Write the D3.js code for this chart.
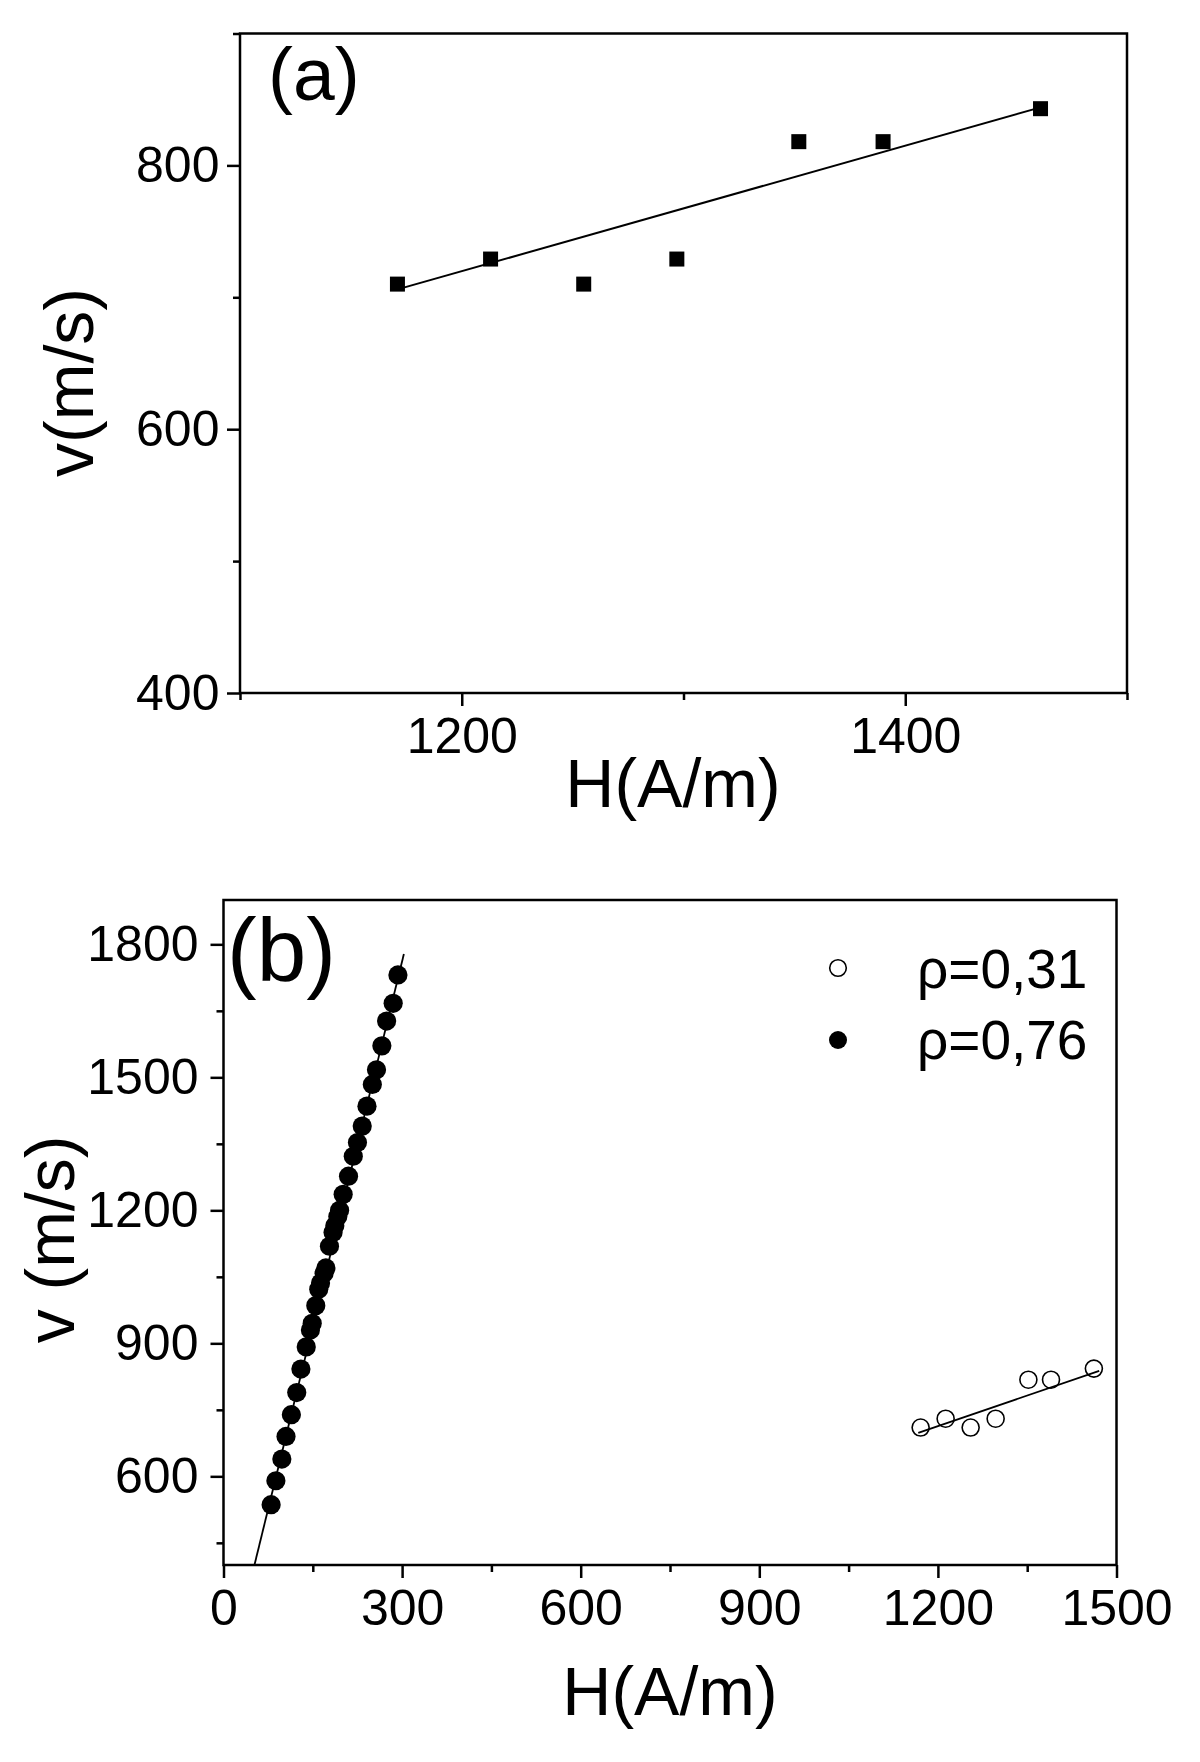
<!DOCTYPE html>
<html><head><meta charset="utf-8">
<script src="https://cdn.jsdelivr.net/npm/d3@7"></script>
<style>
body{margin:0;background:#fff}
svg{display:block}
text{font-family:"Liberation Sans",Arial,Helvetica,sans-serif;fill:#000}
</style>
</head><body><script>
// ---------- data ----------
// Panel (a)
const aH = [1171, 1213, 1255, 1297, 1352, 1390, 1461];
const aV = [710, 729, 710, 729, 818, 818, 843];
const aFitH = [1171, 1461];
const aFitV = [706, 844];
const aXMajor = [1200, 1400];
const aXMinor = [1100, 1300, 1500];
const aYMajor = [400, 600, 800];
const aYMinor = [500, 700, 900];

// Panel (b) – rho = 0.31 (open circles)
const bOpenH = [1171, 1213, 1255, 1297, 1352, 1390, 1462];
const bOpenV = [710, 730, 710, 730, 818, 818, 843];
const bOpenFitH = [1167, 1471];
const bOpenFitV = [698, 838];
// Panel (b) – rho = 0.76 (filled circles)
const bFillH = [80, 88, 98, 105, 114, 123, 130, 139, 146, 149, 155, 160, 163, 169, 172, 178, 184, 187, 192, 195, 201, 210, 218, 225, 233, 241, 250, 257, 266, 274, 285, 293];
const bFillV = [536, 590, 639, 690, 739, 789, 842, 892, 930, 945, 985, 1022, 1036, 1058, 1070, 1119, 1150, 1165, 1186, 1200, 1236, 1277, 1322, 1353, 1390, 1435, 1484, 1517, 1571, 1627, 1667, 1731];
const bFillFitH = [52, 303];
const bFillFitV = [400, 1778];
const bXMajor = [0, 300, 600, 900, 1200, 1500];
const bXMinor = [150, 450, 750, 1050, 1350];
const bYMajor = [600, 900, 1200, 1500, 1800];
const bYMinor = [450, 750, 1050, 1350, 1650];
const legendLabels = ["ρ=0,31", "ρ=0,76"];

// ---------- drawing ----------
const svg = d3.select("body").append("svg").attr("width", 1200).attr("height", 1762);
svg.append("rect").attr("width", 1200).attr("height", 1762).attr("fill", "#fff");

const AX = 2.5;

function drawAxes(x, y, xMaj, xMin, yMaj, yMin, yPad) {
  const [x0, x1] = x.range();
  const [y0, y1] = y.range(); // y0 bottom, y1 top
  const gx = svg.append("g").attr("transform", `translate(0,${y0})`);
  gx.call(d3.axisBottom(x).tickValues(xMaj).tickSize(13).tickSizeOuter(0).tickPadding(11.5).tickFormat(d3.format("d")));
  const gxm = svg.append("g").attr("transform", `translate(0,${y0})`);
  gxm.call(d3.axisBottom(x).tickValues(xMin).tickSize(7).tickSizeOuter(0).tickFormat(""));
  const gy = svg.append("g").attr("transform", `translate(${x0},0)`);
  gy.call(d3.axisLeft(y).tickValues(yMaj).tickSize(13).tickSizeOuter(0).tickPadding(yPad).tickFormat(d3.format("d")));
  const gym = svg.append("g").attr("transform", `translate(${x0},0)`);
  gym.call(d3.axisLeft(y).tickValues(yMin).tickSize(7).tickSizeOuter(0).tickFormat(""));
  [gx, gxm, gy, gym].forEach(g => {
    g.select(".domain").remove();
    g.selectAll("line").attr("stroke", "#000").attr("stroke-width", AX);
    g.selectAll("text").attr("font-size", 50).attr("fill", "#000")
      .style("font-family", '"Liberation Sans",Arial,sans-serif');
  });
  svg.append("rect").attr("x", x0).attr("y", y1).attr("width", x1 - x0).attr("height", y0 - y1)
    .attr("fill", "none").attr("stroke", "#000").attr("stroke-width", AX);
}

// Panel (a)
const xa = d3.scaleLinear().domain([1100, 1500]).range([240, 1127]);
const ya = d3.scaleLinear().domain([400, 900]).range([693, 33.5]);
drawAxes(xa, ya, aXMajor, aXMinor, aYMajor, aYMinor, 7.5);

const lineGen = (x, y) => d3.line().x(d => x(d[0])).y(d => y(d[1]));
svg.append("path").datum(d3.zip(aFitH, aFitV))
  .attr("d", lineGen(xa, ya)).attr("fill", "none").attr("stroke", "#000").attr("stroke-width", 2);
svg.append("g").selectAll("rect").data(d3.zip(aH, aV)).join("rect")
  .attr("x", d => xa(d[0]) - 7.5).attr("y", d => ya(d[1]) - 7.5)
  .attr("width", 15).attr("height", 15).attr("fill", "#000");

svg.append("text").attr("x", 268).attr("y", 100).attr("font-size", 75).text("(a)");
svg.append("text").attr("x", 673).attr("y", 807).attr("text-anchor", "middle").attr("font-size", 68).text("H(A/m)");
svg.append("text").attr("transform", "translate(93,382.5) rotate(-90)").attr("text-anchor", "middle")
  .attr("font-size", 68).text("v(m/s)");

// Panel (b)
const xb = d3.scaleLinear().domain([0, 1500]).range([223.5, 1116.5]);
const yb = d3.scaleLinear().domain([400, 1900]).range([1565, 900]);
drawAxes(xb, yb, bXMajor, bXMinor, bYMajor, bYMinor, 12);

svg.append("path").datum(d3.zip(bFillFitH, bFillFitV))
  .attr("d", lineGen(xb, yb)).attr("fill", "none").attr("stroke", "#000").attr("stroke-width", 1.8);
svg.append("g").selectAll("circle").data(d3.zip(bFillH, bFillV)).join("circle")
  .attr("cx", d => xb(d[0])).attr("cy", d => yb(d[1])).attr("r", 9.6).attr("fill", "#000");

svg.append("path").datum(d3.zip(bOpenFitH, bOpenFitV))
  .attr("d", lineGen(xb, yb)).attr("fill", "none").attr("stroke", "#000").attr("stroke-width", 1.8);
svg.append("g").selectAll("circle").data(d3.zip(bOpenH, bOpenV)).join("circle")
  .attr("cx", d => xb(d[0])).attr("cy", d => yb(d[1])).attr("r", 8.5)
  .attr("fill", "none").attr("stroke", "#000").attr("stroke-width", 1.6);

svg.append("text").attr("x", 227).attr("y", 981).attr("font-size", 89).text("(b)");
svg.append("text").attr("x", 670).attr("y", 1715).attr("text-anchor", "middle").attr("font-size", 68).text("H(A/m)");
svg.append("text").attr("transform", "translate(74,1239.5) rotate(-90)").attr("text-anchor", "middle")
  .attr("font-size", 68).text("v (m/s)");

// Legend
const leg = svg.append("g");
leg.append("circle").attr("cx", 838).attr("cy", 968).attr("r", 8.3)
  .attr("fill", "none").attr("stroke", "#000").attr("stroke-width", 1.6);
leg.append("circle").attr("cx", 838).attr("cy", 1040).attr("r", 9).attr("fill", "#000");
leg.selectAll("text").data(legendLabels).join("text")
  .attr("x", 917).attr("y", (d, i) => 988 + i * 71).attr("font-size", 55).text(d => d);
</script></body></html>
